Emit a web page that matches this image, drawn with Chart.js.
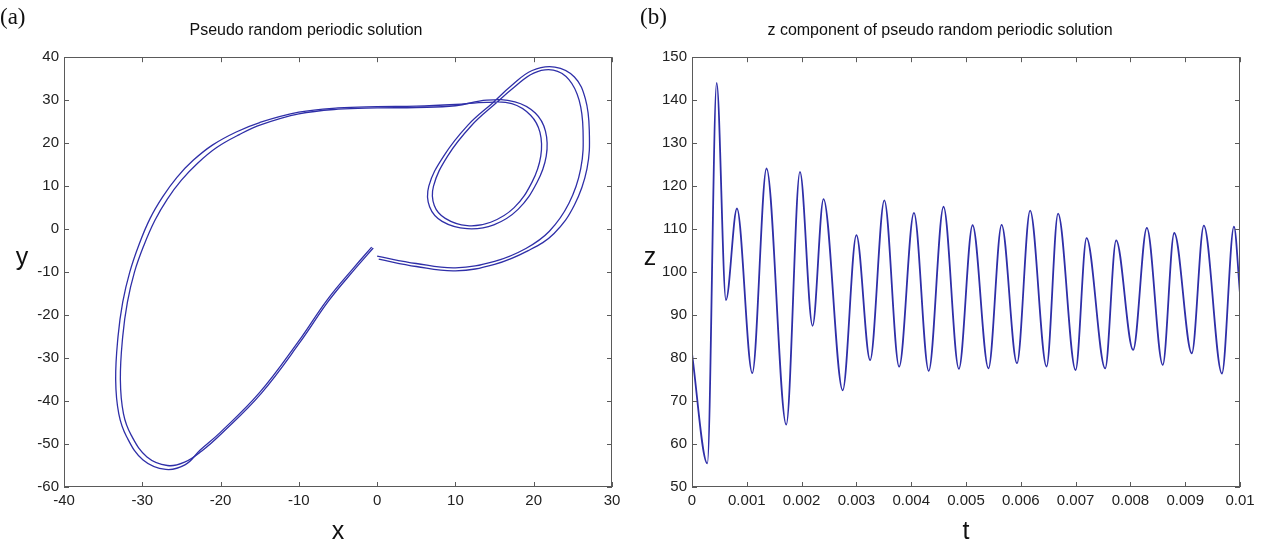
<!DOCTYPE html>
<html>
<head>
<meta charset="utf-8">
<script src="https://cdn.jsdelivr.net/npm/chart.js@4.4.1/dist/chart.umd.min.js"></script>
<style>
  body { margin: 0; background: #fff; }
  #page { position: relative; width: 1267px; height: 545px; overflow: hidden; background: #fff; }
  .panel { position: absolute; top: 0; }
  .tag { position: absolute; font-family: "Liberation Serif", "Times New Roman", serif; font-size: 23px; color: #111; }
  .ax { position: absolute; font-family: "Liberation Sans", Arial, sans-serif; font-size: 25px; color: #111; transform: translate(-50%, -50%); }
</style>
</head>
<body>
<div id="page">
  <div class="panel" style="left:0"><canvas id="phase" width="640" height="545"></canvas></div>
  <div class="panel" style="left:640px"><canvas id="zplot" width="627" height="545"></canvas></div>
  <div class="tag" style="left:0px; top:4px">(a)</div>
  <div class="tag" style="left:640px; top:4px">(b)</div>
  <div class="ax" style="left:22px; top:256px">y</div>
  <div class="ax" style="left:338px; top:530px">x</div>
  <div class="ax" style="left:650px; top:256px">z</div>
  <div class="ax" style="left:966px; top:530px">t</div>
</div>
<script>
// (a) phase portrait, two close strands of the orbit
var strandAX = [0, 5, 10, 15, 19, 22, 24.5, 26, 26.3, 25.8, 24.5, 22.5, 20, 17.5, 15.3, 12, 9, 7.2, 7.3, 8.7, 11.5, 14.5, 17.5, 19.8, 20.9, 20.8, 19.6, 17.2, 14, 10, 5, 0, -5, -10, -15, -18, -21, -23.5, -25.6, -27.4, -29, -30.4, -31.6, -32.5, -33.1, -33.4, -33, -32, -29.9, -27, -24.5, -22.6, -20.1, -15, -10, -6.4, -3, -0.7];
var strandAY = [-6.3, -8, -9, -7.5, -4.5, -0.5, 6, 14, 23, 30, 34.8, 37, 36.3, 33, 29.5, 24, 17, 10, 5.5, 2.5, 0.8, 1.6, 5, 11, 17, 22.5, 26.5, 29.2, 29.5, 29, 28.6, 28.5, 28.2, 27.2, 24.8, 22.6, 19.6, 16, 12, 7.5, 2.5, -3.5, -10, -17, -25, -35, -43, -48.3, -53.7, -55.9, -54.8, -51.4, -47.4, -38, -26, -16.5, -9, -4.2];
var strandBX = [0.2, 5, 10, 15, 19.3, 22.6, 25.2, 26.8, 27.1, 26.6, 25.2, 22.7, 19.8, 17.1, 14.9, 11.6, 8.5, 6.6, 6.7, 8.3, 11.5, 14.9, 18, 20.4, 21.6, 21.5, 20.2, 17.6, 14, 10, 5, 0, -5, -10, -14.8, -17.6, -20.5, -22.9, -25, -26.8, -28.4, -29.8, -31, -31.9, -32.5, -32.8, -32.4, -31.4, -29.4, -26.8, -24.6, -22.4, -19.9, -14.8, -9.8, -6.2, -2.8, -0.5];
var strandBY = [-7, -8.7, -9.7, -8.2, -5, -1, 5.6, 14, 23, 30.3, 35.4, 37.7, 36.9, 33.3, 29.6, 24.2, 17, 10, 5.2, 1.8, 0.1, 1, 4.6, 10.8, 17, 22.8, 27, 29.6, 30, 28.7, 28.3, 28.2, 27.9, 26.8, 24.3, 22, 19, 15.4, 11.4, 7, 2, -3.8, -10, -17, -25, -35, -43, -48, -53, -55, -54.2, -51.6, -47.6, -38.2, -26.2, -16.7, -9.2, -4.4];

// (b) z component: peaks and troughs
var tValues = [0, 0.00028, 0.00045, 0.00062, 0.00082, 0.0011, 0.00136, 0.00172, 0.00197, 0.0022, 0.0024, 0.00275, 0.003, 0.00325, 0.00351, 0.00378, 0.00405, 0.00432, 0.00459, 0.00487, 0.00512, 0.00541, 0.00565, 0.00593, 0.00617, 0.00647, 0.00668, 0.007, 0.0072, 0.00754, 0.00774, 0.00805, 0.0083, 0.00859, 0.0088, 0.00912, 0.00934, 0.00967, 0.00989, 0.01];
var zValues = [81, 55.5, 144, 93.5, 114.8, 76.5, 124.1, 64.5, 123.3, 87.5, 117, 72.5, 108.6, 79.5, 116.7, 78, 113.8, 77, 115.2, 77.5, 110.9, 77.6, 111, 78.8, 114.3, 78, 113.6, 77.2, 107.9, 77.6, 107.4, 81.9, 110.3, 78.4, 109.1, 81.1, 110.8, 76.4, 110.6, 95];

var lineBlue = '#2f2fa8';

Chart.defaults.font.family = '"Liberation Sans", Arial, sans-serif';
Chart.defaults.color = '#222';

function toPoints(xs, ys) {
    return xs.map(function (v, i) { return { x: v, y: ys[i] }; });
}

// matlab style box with inward ticks on all four sides
var boxTicks = {
    id: 'boxTicks',
    afterDatasetsDraw: function (chart) {
        var ctx = chart.ctx;
        var a = chart.chartArea;
        var xs = chart.scales.x, ys = chart.scales.y;
        var len = 5;
        ctx.save();
        ctx.strokeStyle = '#5a5a5a';
        ctx.lineWidth = 1;
        ctx.beginPath();
        xs.ticks.forEach(function (t) {
            var px = Math.round(xs.getPixelForValue(t.value)) + 0.5;
            ctx.moveTo(px, a.bottom); ctx.lineTo(px, a.bottom - len);
            ctx.moveTo(px, a.top); ctx.lineTo(px, a.top + len);
        });
        ys.ticks.forEach(function (t) {
            var py = Math.round(ys.getPixelForValue(t.value)) + 0.5;
            ctx.moveTo(a.left, py); ctx.lineTo(a.left + len, py);
            ctx.moveTo(a.right, py); ctx.lineTo(a.right - len, py);
        });
        ctx.stroke();
        ctx.strokeRect(Math.round(a.left) + 0.5, Math.round(a.top) + 0.5, Math.round(a.width) - 1, Math.round(a.height) - 1);
        ctx.restore();
    }
};

function axisOpts(min, max, step, extra) {
    var o = {
        type: 'linear',
        min: min,
        max: max,
        grid: { display: false, drawTicks: false },
        border: { display: false },
        ticks: { stepSize: step, padding: 5, color: '#222', font: { size: 15 } }
    };
    return Object.assign(o, extra);
}

function titleOpts(text) {
    return {
        display: true,
        text: text,
        color: '#111',
        font: { size: 16, weight: 'normal' },
        padding: { top: 21, bottom: 17 }
    };
}

new Chart(document.getElementById('phase'), {
    type: 'scatter',
    data: {
        datasets: [{
            data: toPoints(strandAX, strandAY),
            showLine: true,
            borderColor: lineBlue,
            borderWidth: 1.3,
            pointRadius: 0,
            tension: 0.4,
            fill: false
        }, {
            data: toPoints(strandBX, strandBY),
            showLine: true,
            borderColor: lineBlue,
            borderWidth: 1.3,
            pointRadius: 0,
            tension: 0.4,
            fill: false
        }]
    },
    options: {
        responsive: false,
        animation: false,
        layout: { padding: { left: 0, right: 28, top: 0, bottom: 0 } },
        plugins: {
            legend: { display: false },
            tooltip: { enabled: false },
            title: titleOpts('Pseudo random periodic solution')
        },
        scales: {
            x: axisOpts(-40, 30, 10, { afterFit: function (s) { s.height = 58; } }),
            y: axisOpts(-60, 40, 10, { afterFit: function (s) { s.width = 64; } })
        }
    },
    plugins: [boxTicks]
});

new Chart(document.getElementById('zplot'), {
    type: 'line',
    data: {
        datasets: [{
            data: toPoints(tValues, zValues),
            borderColor: lineBlue,
            borderWidth: 1.8,
            pointRadius: 0,
            cubicInterpolationMode: 'monotone',
            fill: false
        }]
    },
    options: {
        responsive: false,
        animation: false,
        layout: { padding: { left: 0, right: 27, top: 0, bottom: 0 } },
        plugins: {
            legend: { display: false },
            tooltip: { enabled: false },
            title: titleOpts('z component of pseudo random periodic solution')
        },
        scales: {
            x: axisOpts(0, 0.01, 0.001, {
                afterFit: function (s) { s.height = 58; },
                ticks: {
                    stepSize: 0.001, padding: 5, color: '#222', font: { size: 15 },
                    callback: function (v) { return String(Number(v.toFixed(3))); }
                }
            }),
            y: axisOpts(50, 150, 10, { afterFit: function (s) { s.width = 52; } })
        }
    },
    plugins: [boxTicks]
});
</script>
</body>
</html>
